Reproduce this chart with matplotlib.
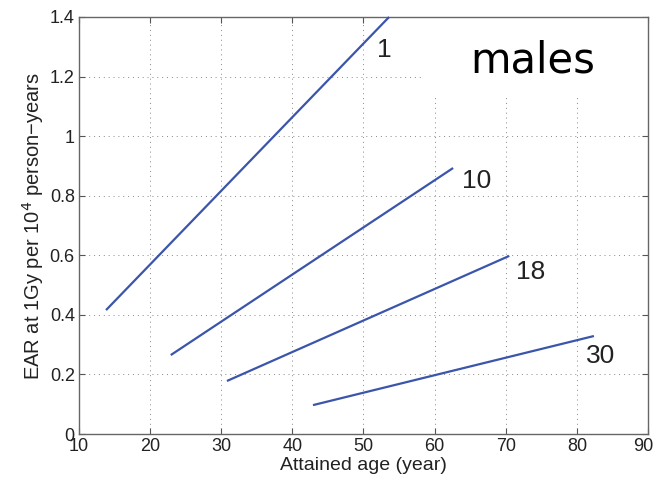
import matplotlib.pyplot as plt
import matplotlib.transforms as mtransforms
from matplotlib.patches import Rectangle

# age at exposure -> line from first to last attained age
labels = ['1', '10', '18', '30']
x_start = [13.8, 22.9, 30.8, 42.9]
x_end = [53.6, 62.6, 70.5, 82.4]
y_start = [0.416, 0.265, 0.178, 0.097]
y_end = [1.40, 0.893, 0.598, 0.329]
label_x = [52.9, 65.9, 73.5, 83.4]
label_y = [1.29, 0.85, 0.545, 0.262]

xticks = [10, 20, 30, 40, 50, 60, 70, 80, 90]
yticks = [0, 0.2, 0.4, 0.6, 0.8, 1, 1.2, 1.4]
yticklabels = ['0', '0.2', '0.4', '0.6', '0.8', '1', '1.2', '1.4']

plt.rcParams['font.family'] = ['Liberation Sans', 'DejaVu Sans']

fig = plt.figure(figsize=(6.54, 4.8), dpi=100)
ax = fig.add_axes([0.1208, 0.0958, 0.87, 0.8688])

blue = '#3b55aa'
for i in range(len(labels)):
    ax.plot([x_start[i], x_end[i]], [y_start[i], y_end[i]], color=blue, lw=1.6,
            solid_capstyle='butt', zorder=3, clip_on=False)
    ax.text(label_x[i], label_y[i], labels[i], fontsize=19, ha='center', va='center',
            color='#222222', zorder=4)

# white patch behind the "males" title hides the grid there
ax.add_patch(Rectangle((58.4, 1.138), 31.6, 0.262, facecolor='white', edgecolor='none', zorder=2))
ax.text(73.8, 1.255, 'males', fontsize=30, ha='center', va='center',
        family='DejaVu Sans', color='black', zorder=4)

ax.set_xlim(10, 90)
ax.set_ylim(0, 1.4)
ax.set_xticks(xticks)
ax.set_yticks(yticks)
ax.set_yticklabels(yticklabels)
ax.grid(True, linestyle=(0, (1, 4)), color='#888888', lw=0.7, zorder=1)
ax.set_axisbelow(True)
ax.tick_params(direction='in', top=True, right=True, length=4, labelsize=13,
               color='#555555', labelcolor='#222222', pad=3)
for s in ax.spines.values():
    s.set_color('#666666')
    s.set_linewidth(1.0)

# keep the last x tick label inside the figure
last = ax.get_xticklabels()[-1]
last.set_transform(last.get_transform() + mtransforms.ScaledTranslation(-5 / 100, 0, fig.dpi_scale_trans))

ax.set_xlabel('Attained age (year)', fontsize=14, color='#222222', labelpad=1)
ax.set_ylabel('EAR at 1Gy per 10$^4$ person\u2212years', fontsize=14.5, color='#222222', labelpad=3)

fig.savefig('out.png', dpi=100)
